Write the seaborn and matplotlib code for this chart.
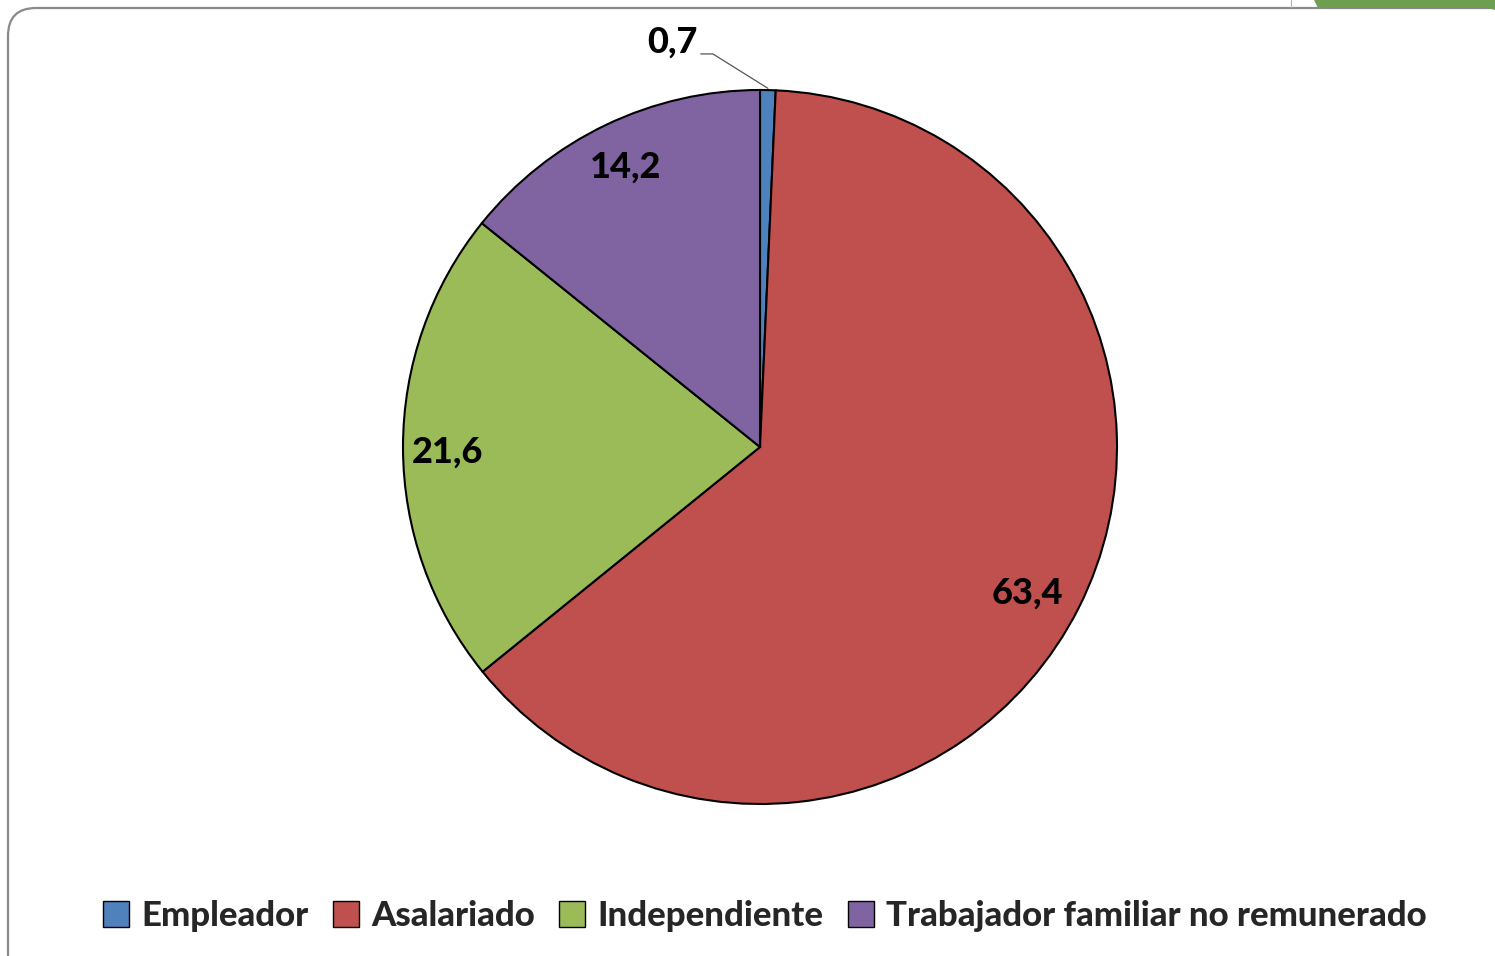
import numpy as np
import matplotlib
matplotlib.use("Agg")
import matplotlib.pyplot as plt
from matplotlib.patches import FancyBboxPatch, Polygon, Patch
import seaborn as sns

categories = ["Empleador", "Asalariado", "Independiente", "Trabajador familiar no remunerado"]
values = [0.7, 63.4, 21.6, 14.2]
value_labels = ["0,7", "63,4", "21,6", "14,2"]
colors = ["#4F81BD", "#C0504D", "#9BBB59", "#8064A2"]

sns.set_theme(style="white")
plt.rcParams["font.family"] = ["Lato", "DejaVu Sans"]
palette = sns.color_palette(colors)

W, H = 1495, 956
fig = plt.figure(figsize=(W / 100, H / 100), dpi=100)
fig.patch.set_facecolor("white")

# background frame overlay (pixel coordinates)
bg = fig.add_axes([0, 0, 1, 1], zorder=0)
bg.set_xlim(0, W)
bg.set_ylim(H, 0)
bg.axis("off")
frame = FancyBboxPatch((8, 8), 1530, 975, boxstyle="round,pad=0,rounding_size=28",
                       facecolor="white", edgecolor="#8a8a8a", linewidth=1.6)
bg.add_patch(frame)
bg.add_patch(Polygon([(1314, 0), (1495, 0), (1495, 10), (1488, 8), (1318, 8)],
                     closed=True, facecolor="#6E9E4F", edgecolor="none"))
bg.plot([1291, 1291], [0, 7], color="#b0b0b0", linewidth=0.8)

# pie axes
cx, cy, r = 760, 447, 357
ax = fig.add_axes([(cx - r) / W, (H - cy - r) / H, 2 * r / W, 2 * r / H], zorder=1)
wedges, _ = ax.pie(values, colors=palette, startangle=90, counterclock=False,
                   wedgeprops=dict(edgecolor="black", linewidth=1.5))
ax.set_xlim(-1, 1)
ax.set_ylim(-1, 1)
ax.set_aspect("equal")
ax.axis("off")
for w in wedges:
    w.set_clip_on(False)

label_font = dict(fontsize=26, fontweight="black", color="black")
label_r = [None, 0.852, 0.875, 0.875]
label_nudge = [None, (-0.012, -0.025), (0.0, -0.012), (0.0, -0.006)]
for i, w in enumerate(wedges):
    mid = np.deg2rad((w.theta1 + w.theta2) / 2)
    if i == 0:
        tx, ty = -0.244, 1.135
        sx, sy = 1.005 * np.cos(mid), 1.005 * np.sin(mid)
        ax.plot([sx, tx + 0.112, tx + 0.078], [sy, ty - 0.034, ty - 0.034],
                color="#555555", linewidth=0.9, clip_on=False)
        ax.text(tx, ty, value_labels[i], ha="center", va="center", clip_on=False, **label_font)
    else:
        dx, dy = label_nudge[i]
        ax.text(label_r[i] * np.cos(mid) + dx, label_r[i] * np.sin(mid) + dy, value_labels[i],
                ha="center", va="center", **label_font)

handles = [Patch(facecolor=palette[i], edgecolor="black", linewidth=1.0) for i in range(4)]
leg = fig.legend(handles, categories, loc="center", bbox_to_anchor=(765 / W, 1 - 916 / H),
                 ncol=4, frameon=False, fontsize=25, handlelength=0.75, handleheight=0.75,
                 handletextpad=0.35, columnspacing=0.7, borderpad=0)
for t in leg.get_texts():
    t.set_fontweight("black")

fig.savefig("out.png", dpi=100, facecolor="white")
